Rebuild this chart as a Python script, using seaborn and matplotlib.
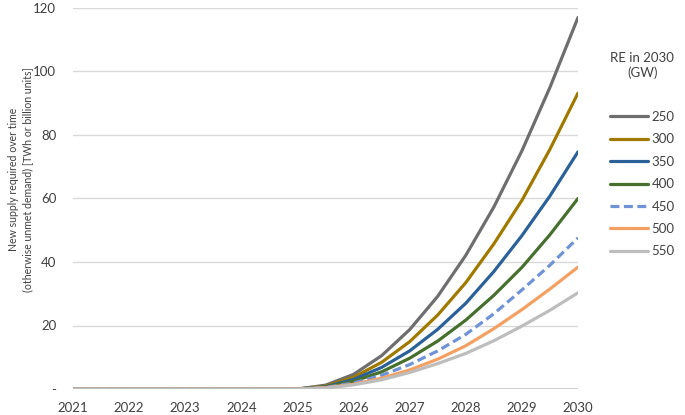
import pandas as pd
import numpy as np
import matplotlib
matplotlib.use("Agg")
import matplotlib.pyplot as plt
import seaborn as sns

# half-year steps
years = [2021, 2021.5, 2022, 2022.5, 2023, 2023.5, 2024, 2024.5, 2025, 2025.5,
         2026, 2026.5, 2027, 2027.5, 2028, 2028.5, 2029, 2029.5, 2030]
flat = [0, 0, 0, 0, 0, 0, 0, 0, 0]

re_250 = flat + [1.2, 4.6, 10.5, 18.7, 29.2, 42.1, 57.3, 75.0, 95.0, 117.0]
re_300 = flat + [0.9, 3.7, 8.4, 14.9, 23.3, 33.5, 45.7, 59.4, 75.5, 93.2]
re_350 = flat + [0.7, 3.0, 6.8, 12.0, 18.8, 27.0, 37.0, 48.3, 60.8, 74.7]
re_400 = flat + [0.6, 2.4, 5.4, 9.7, 15.1, 21.7, 29.5, 38.3, 48.6, 60.0]
re_450 = flat + [0.5, 1.9, 4.3, 7.7, 12.0, 17.2, 23.7, 31.2, 39.0, 47.6]
re_500 = flat + [0.4, 1.5, 3.4, 6.0, 9.4, 13.6, 19.0, 25.0, 31.5, 38.4]
re_550 = flat + [0.3, 1.3, 2.9, 5.2, 8.0, 11.2, 15.2, 19.8, 24.8, 30.3]

labels = ['250', '300', '350', '400', '450', '500', '550']
series = [re_250, re_300, re_350, re_400, re_450, re_500, re_550]
colors = ['#6e6e6e', '#a07a00', '#2a6199', '#47702f', '#6f93d6', '#f5a063', '#bdbdbd']

rows = []
for lab, vals in zip(labels, series):
    for yr, v in zip(years, vals):
        rows.append({'year': yr, 'value': v, 'RE': lab})
df = pd.DataFrame(rows)

sns.set_style('white')
plt.rcParams['font.family'] = ['Lato', 'DejaVu Sans']

fig = plt.figure(figsize=(6.85, 4.15), dpi=100)
ax = fig.add_axes([73 / 685, 1 - 389 / 415, 505 / 685, 381 / 415])

dashes = {lab: '' for lab in labels}
dashes['450'] = (2.8, 1.4)
sns.lineplot(data=df, x='year', y='value', hue='RE', style='RE',
             palette=dict(zip(labels, colors)), dashes=dashes,
             linewidth=2.3, ax=ax, legend=True)

ax.set_xlim(2021, 2030)
ax.set_ylim(0, 120)
ax.set_xticks(range(2021, 2031))
ax.set_xticklabels([str(y) for y in range(2021, 2031)])
ax.set_yticks([0, 20, 40, 60, 80, 100, 120])
ax.set_yticklabels(['-', '20', '40', '60', '80', '100', '120'])
ax.tick_params(axis='both', length=0, labelsize=9.5, colors='#404040')
ax.tick_params(axis='x', pad=9)
ax.tick_params(axis='y', pad=12)
for s in ax.spines.values():
    s.set_visible(False)
ax.grid(axis='y', color='#d9d9d9', lw=1)
ax.axhline(0, color='#c0c0c0', lw=1.8, zorder=0.5)
ax.set_axisbelow(True)

ax.set_xlabel('')
ax.set_ylabel('New supply required over time\n(otherwise unmet demand) [TWh or billion units]',
              fontsize=7.6, color='#404040', linespacing=1.3)
ax.yaxis.set_label_coords(-0.08, 0.55)

handles, labs = ax.get_legend_handles_labels()
leg = ax.legend(handles, labs, title='RE in 2030\n(GW)', frameon=False,
                loc='upper left', bbox_to_anchor=(1.04, 0.915),
                fontsize=9.5, title_fontsize=9.5, handlelength=2.9,
                handletextpad=0.25, labelspacing=0.79)
leg.get_title().set_multialignment('center')
leg._legend_box.sep = 23
for t in leg.get_texts():
    t.set_color('#404040')
leg.get_title().set_color('#404040')

fig.savefig('out.png', dpi=100)
